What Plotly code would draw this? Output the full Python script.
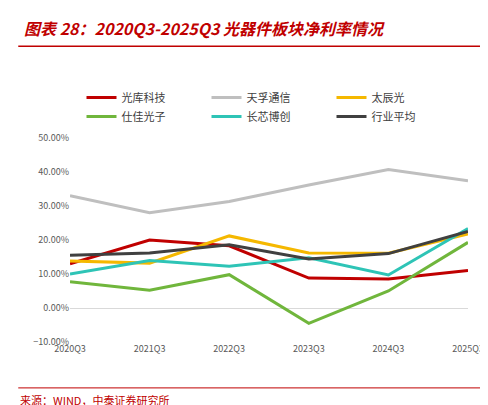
import plotly.graph_objects as go

quarters = ["2020Q3", "2021Q3", "2022Q3", "2023Q3", "2024Q3", "2025Q3"]
guangku = [13.0, 20.0, 18.3, 8.8, 8.5, 11.0]
tianfu = [33.0, 28.0, 31.3, 36.2, 40.7, 37.4]
taichen = [13.8, 13.2, 21.2, 16.2, 16.1, 21.8]
shijia = [7.7, 5.2, 9.8, -4.5, 5.0, 19.3]
changxin = [10.0, 14.0, 12.3, 14.8, 9.7, 23.4]
industry = [15.5, 16.2, 18.6, 14.4, 16.0, 22.5]

series = [
    ("光库科技", guangku, "#C00000"),
    ("天孚通信", tianfu, "#BFBFBF"),
    ("太辰光", taichen, "#F5B800"),
    ("仕佳光子", shijia, "#70B63C"),
    ("长芯博创", changxin, "#2EC4B6"),
    ("行业平均", industry, "#404040"),
]

FONT = "Noto Sans CJK SC"

fig = go.Figure()
for name, vals, color in series:
    fig.add_trace(go.Scatter(
        x=quarters, y=[v / 100 for v in vals], name=name, mode="lines",
        line=dict(color=color, width=3),
    ))

fig.update_layout(
    width=488, height=405,
    paper_bgcolor="white", plot_bgcolor="white",
    font=dict(family=FONT, color="#595959", size=10),
    margin=dict(l=62, r=28, t=130, b=71),
    showlegend=True,
    legend=dict(orientation="h", x=0.5, xanchor="center", y=1.27, yanchor="top",
                font=dict(size=11, color="#404040"), entrywidth=80,
                traceorder="normal"),
    xaxis=dict(showgrid=False, showline=False, ticks="", tickfont=dict(size=9)),
    yaxis=dict(range=[-0.1, 0.5], dtick=0.1, tickformat=".2%", showgrid=False,
               zeroline=True, zerolinecolor="#D9D9D9", zerolinewidth=1,
               tickfont=dict(size=9)),
    annotations=[
        dict(text="<b><i>图表 28：2020Q3-2025Q3 光器件板块净利率情况</i></b>",
             x=-0.12, xref="paper", xanchor="left", y=1.54, yref="paper", yanchor="middle",
             showarrow=False, font=dict(color="#C00000", size=16, family=FONT)),
        dict(text="来源：WIND，中泰证券研究所", x=-0.13, xref="paper", xanchor="left",
             y=-0.284, yref="paper", yanchor="middle",
             showarrow=False, font=dict(color="#C00000", size=11, family=FONT)),
    ],
    shapes=[
        dict(type="line", xref="paper", yref="paper", x0=-0.13, x1=1.07, y0=1.45, y1=1.45,
             line=dict(color="#C00000", width=1.5)),
        dict(type="line", xref="paper", yref="paper", x0=-0.13, x1=1.07, y0=-0.225, y1=-0.225,
             line=dict(color="#C00000", width=1)),
    ],
)
fig.write_html("out.html")
